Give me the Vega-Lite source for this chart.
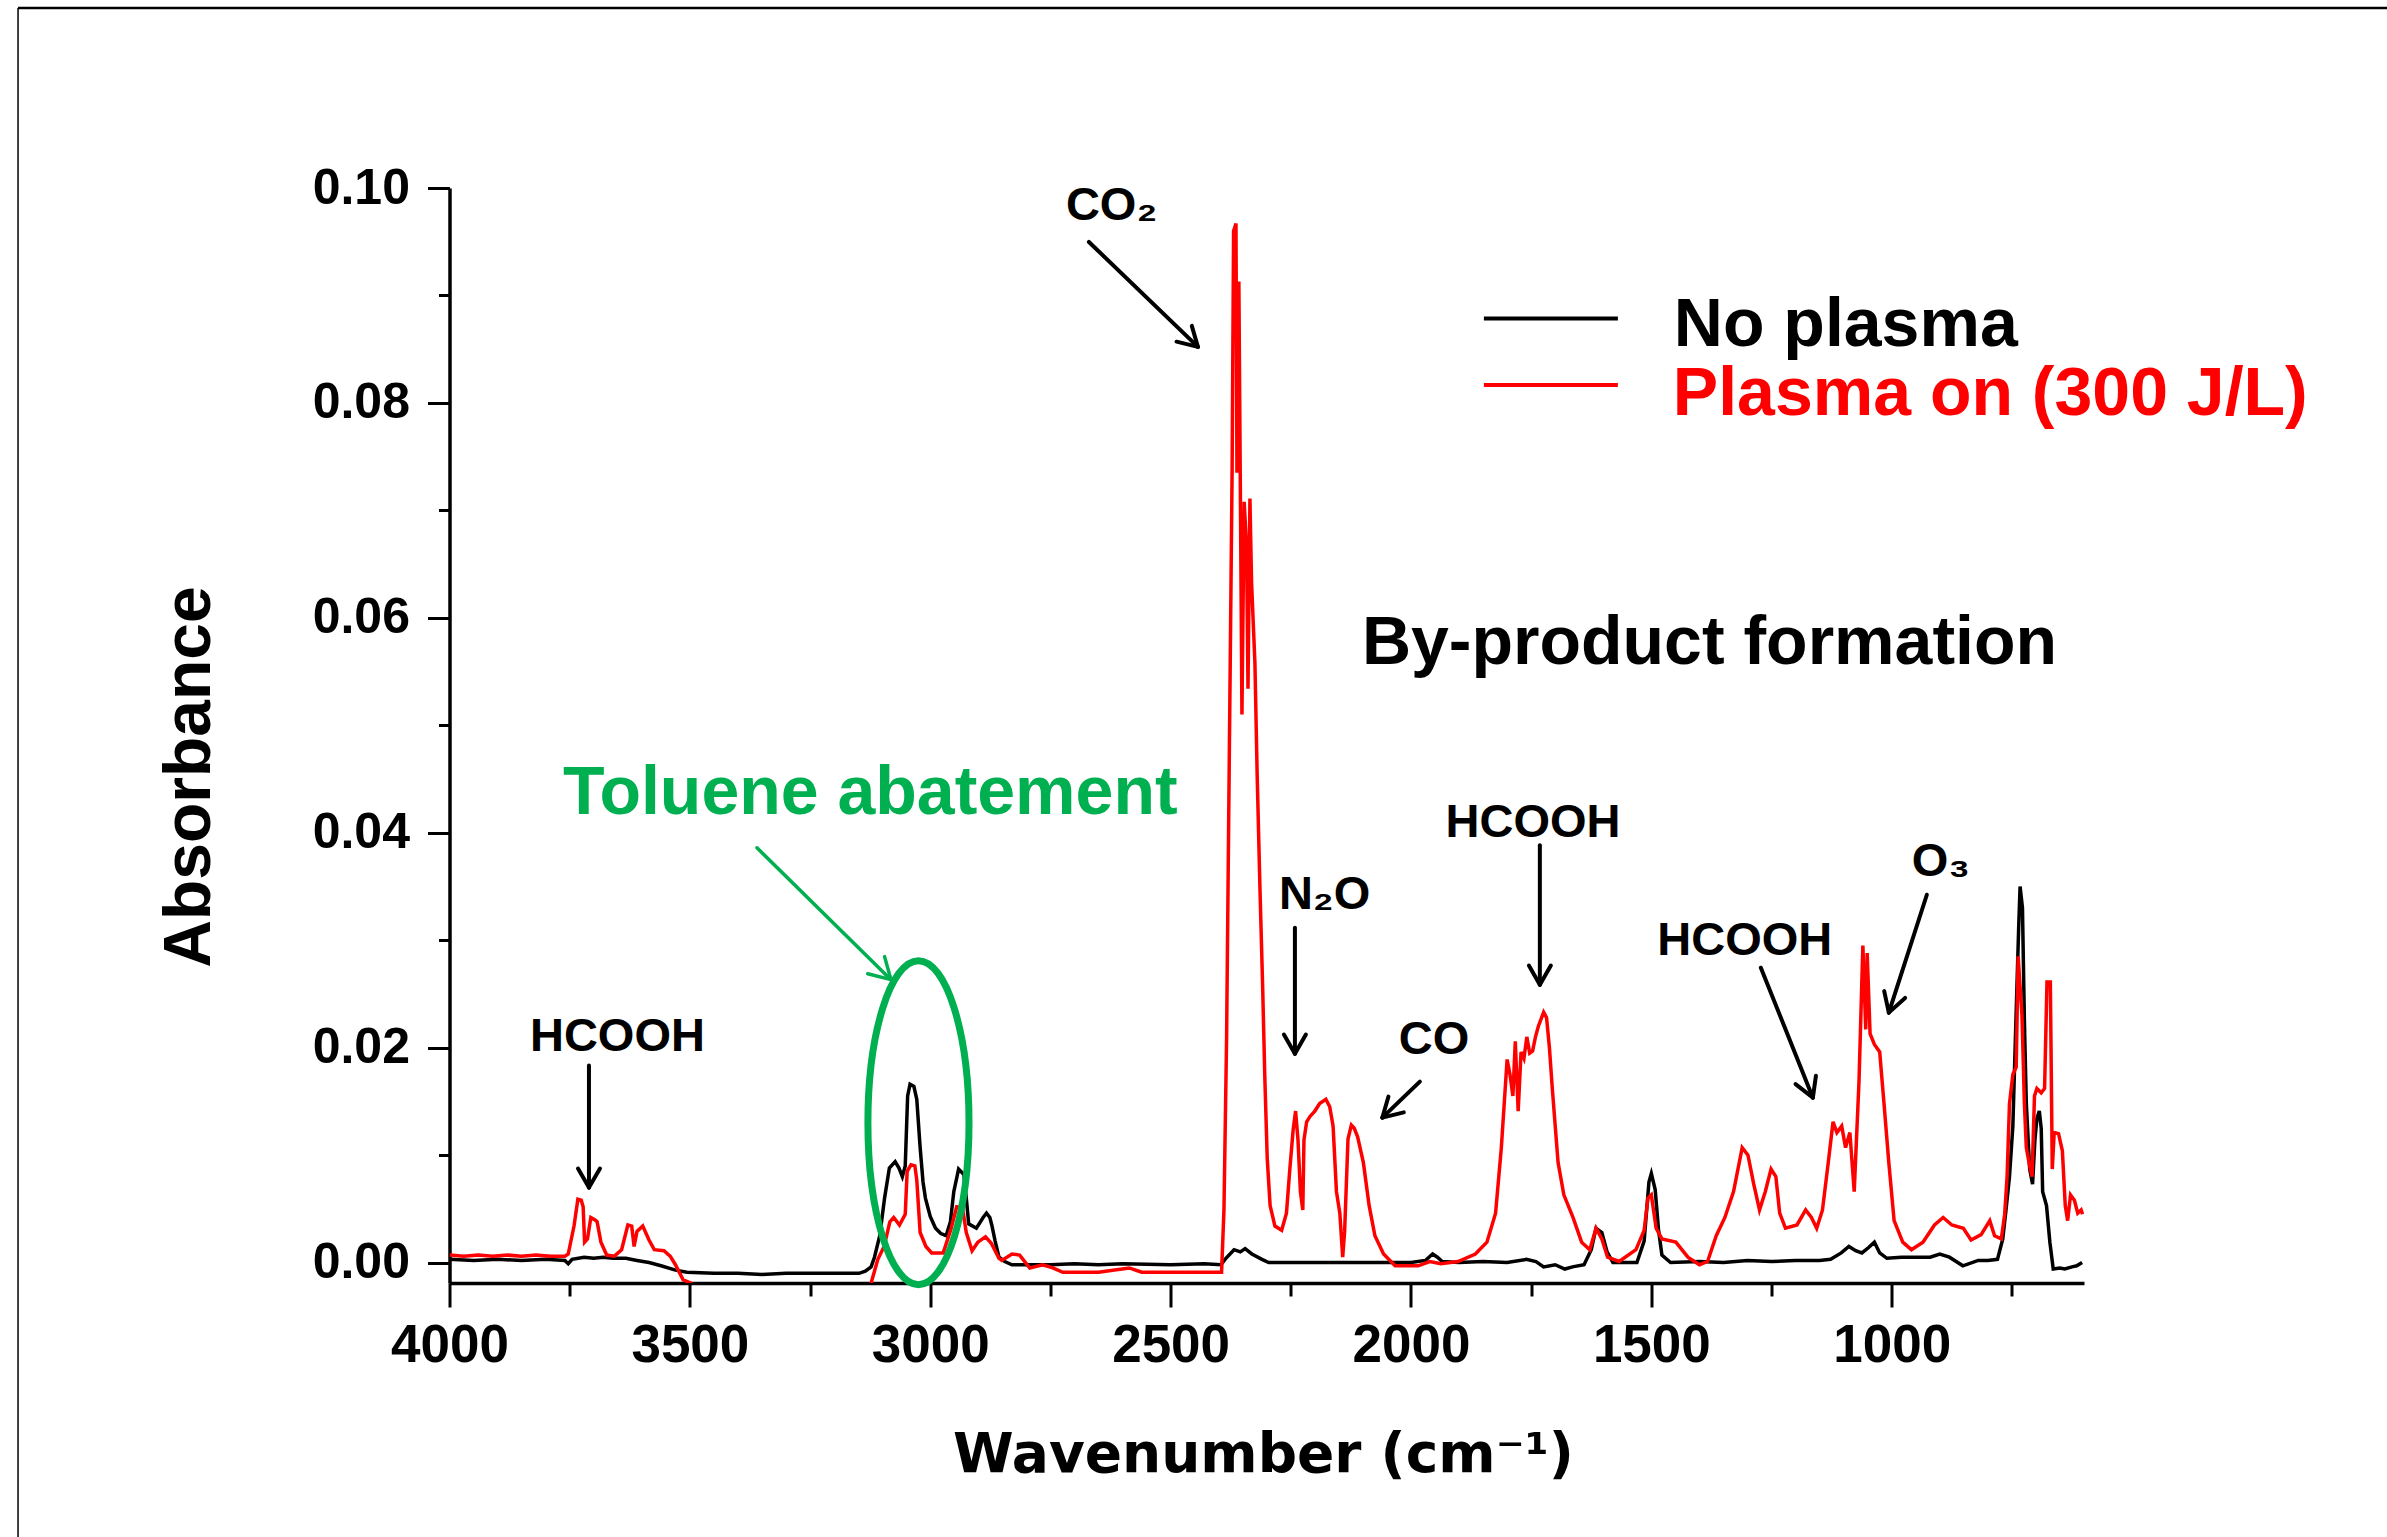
{
  "$schema": "https://vega.github.io/schema/vega-lite/v6.json",
  "width": 1634.5,
  "height": 1095,
  "autosize": {"type": "none"},
  "padding": {"left": 449.5, "top": 188, "right": 303, "bottom": 254},
  "background": "white",
  "config": {"view": {"stroke": null}, "axis": {"grid": false}},
  "datasets": {
    "spectra": [
      {"w":4000,"a":0.0003,"s":"No plasma"},{"w":3950,"a":0.0002,"s":"No plasma"},{"w":3900,"a":0.0003,"s":"No plasma"},{"w":3850,"a":0.0002,"s":"No plasma"},{"w":3800,"a":0.0003,"s":"No plasma"},{"w":3760,"a":0.0002,"s":"No plasma"},{"w":3753,"a":-0.0001,"s":"No plasma"},{"w":3745,"a":0.0003,"s":"No plasma"},{"w":3720,"a":0.0005,"s":"No plasma"},{"w":3700,"a":0.0004,"s":"No plasma"},{"w":3680,"a":0.0005,"s":"No plasma"},{"w":3660,"a":0.0004,"s":"No plasma"},{"w":3633,"a":0.0004,"s":"No plasma"},{"w":3610,"a":0.0002,"s":"No plasma"},{"w":3585,"a":0.0,"s":"No plasma"},{"w":3560,"a":-0.0003,"s":"No plasma"},{"w":3530,"a":-0.0007,"s":"No plasma"},{"w":3506,"a":-0.0009,"s":"No plasma"},{"w":3450,"a":-0.001,"s":"No plasma"},{"w":3400,"a":-0.001,"s":"No plasma"},{"w":3350,"a":-0.0011,"s":"No plasma"},{"w":3300,"a":-0.001,"s":"No plasma"},{"w":3250,"a":-0.001,"s":"No plasma"},{"w":3200,"a":-0.001,"s":"No plasma"},{"w":3148,"a":-0.001,"s":"No plasma"},{"w":3135,"a":-0.0008,"s":"No plasma"},{"w":3123,"a":-0.0004,"s":"No plasma"},{"w":3116,"a":0.0005,"s":"No plasma"},{"w":3105,"a":0.0025,"s":"No plasma"},{"w":3095,"a":0.006,"s":"No plasma"},{"w":3085,"a":0.0088,"s":"No plasma"},{"w":3073,"a":0.0094,"s":"No plasma"},{"w":3065,"a":0.0088,"s":"No plasma"},{"w":3058,"a":0.008,"s":"No plasma"},{"w":3052,"a":0.009,"s":"No plasma"},{"w":3047,"a":0.0155,"s":"No plasma"},{"w":3042,"a":0.0166,"s":"No plasma"},{"w":3034,"a":0.0164,"s":"No plasma"},{"w":3028,"a":0.0152,"s":"No plasma"},{"w":3021,"a":0.0107,"s":"No plasma"},{"w":3015,"a":0.0075,"s":"No plasma"},{"w":3010,"a":0.006,"s":"No plasma"},{"w":3000,"a":0.0043,"s":"No plasma"},{"w":2989,"a":0.0032,"s":"No plasma"},{"w":2978,"a":0.0027,"s":"No plasma"},{"w":2967,"a":0.0025,"s":"No plasma"},{"w":2958,"a":0.0038,"s":"No plasma"},{"w":2951,"a":0.0066,"s":"No plasma"},{"w":2941,"a":0.0087,"s":"No plasma"},{"w":2930,"a":0.0082,"s":"No plasma"},{"w":2925,"a":0.006,"s":"No plasma"},{"w":2920,"a":0.0036,"s":"No plasma"},{"w":2904,"a":0.0032,"s":"No plasma"},{"w":2890,"a":0.0042,"s":"No plasma"},{"w":2883,"a":0.0046,"s":"No plasma"},{"w":2876,"a":0.0042,"s":"No plasma"},{"w":2872,"a":0.0035,"s":"No plasma"},{"w":2865,"a":0.002,"s":"No plasma"},{"w":2857,"a":0.0005,"s":"No plasma"},{"w":2845,"a":0.0001,"s":"No plasma"},{"w":2830,"a":-0.0002,"s":"No plasma"},{"w":2750,"a":-0.0002,"s":"No plasma"},{"w":2700,"a":-0.0001,"s":"No plasma"},{"w":2650,"a":-0.0002,"s":"No plasma"},{"w":2600,"a":-0.0001,"s":"No plasma"},{"w":2500,"a":-0.0002,"s":"No plasma"},{"w":2430,"a":-0.0001,"s":"No plasma"},{"w":2395,"a":-0.0002,"s":"No plasma"},{"w":2385,"a":0.0004,"s":"No plasma"},{"w":2368,"a":0.0012,"s":"No plasma"},{"w":2355,"a":0.001,"s":"No plasma"},{"w":2345,"a":0.0013,"s":"No plasma"},{"w":2331,"a":0.0008,"s":"No plasma"},{"w":2310,"a":0.0003,"s":"No plasma"},{"w":2296,"a":0.0,"s":"No plasma"},{"w":2200,"a":0.0,"s":"No plasma"},{"w":2100,"a":0.0,"s":"No plasma"},{"w":2000,"a":0.0,"s":"No plasma"},{"w":1970,"a":0.0002,"s":"No plasma"},{"w":1955,"a":0.0008,"s":"No plasma"},{"w":1945,"a":0.0005,"s":"No plasma"},{"w":1935,"a":0.0001,"s":"No plasma"},{"w":1900,"a":0.0,"s":"No plasma"},{"w":1850,"a":0.0001,"s":"No plasma"},{"w":1800,"a":0.0,"s":"No plasma"},{"w":1760,"a":0.0003,"s":"No plasma"},{"w":1740,"a":0.0001,"s":"No plasma"},{"w":1724,"a":-0.0004,"s":"No plasma"},{"w":1700,"a":-0.0002,"s":"No plasma"},{"w":1680,"a":-0.0006,"s":"No plasma"},{"w":1664,"a":-0.0004,"s":"No plasma"},{"w":1640,"a":-0.0002,"s":"No plasma"},{"w":1625,"a":0.0012,"s":"No plasma"},{"w":1615,"a":0.0032,"s":"No plasma"},{"w":1603,"a":0.0028,"s":"No plasma"},{"w":1592,"a":0.001,"s":"No plasma"},{"w":1580,"a":0.0,"s":"No plasma"},{"w":1560,"a":0.0,"s":"No plasma"},{"w":1530,"a":0.0,"s":"No plasma"},{"w":1515,"a":0.002,"s":"No plasma"},{"w":1505,"a":0.0075,"s":"No plasma"},{"w":1500,"a":0.0083,"s":"No plasma"},{"w":1492,"a":0.0068,"s":"No plasma"},{"w":1485,"a":0.003,"s":"No plasma"},{"w":1478,"a":0.0007,"s":"No plasma"},{"w":1460,"a":0.0,"s":"No plasma"},{"w":1400,"a":0.0001,"s":"No plasma"},{"w":1350,"a":0.0,"s":"No plasma"},{"w":1300,"a":0.0002,"s":"No plasma"},{"w":1250,"a":0.0001,"s":"No plasma"},{"w":1200,"a":0.0002,"s":"No plasma"},{"w":1150,"a":0.0002,"s":"No plasma"},{"w":1127,"a":0.0003,"s":"No plasma"},{"w":1105,"a":0.0009,"s":"No plasma"},{"w":1089,"a":0.0015,"s":"No plasma"},{"w":1075,"a":0.0011,"s":"No plasma"},{"w":1062,"a":0.0009,"s":"No plasma"},{"w":1048,"a":0.0014,"s":"No plasma"},{"w":1036,"a":0.0019,"s":"No plasma"},{"w":1025,"a":0.0009,"s":"No plasma"},{"w":1010,"a":0.0004,"s":"No plasma"},{"w":980,"a":0.0005,"s":"No plasma"},{"w":950,"a":0.0005,"s":"No plasma"},{"w":920,"a":0.0005,"s":"No plasma"},{"w":900,"a":0.0008,"s":"No plasma"},{"w":880,"a":0.0005,"s":"No plasma"},{"w":852,"a":-0.0003,"s":"No plasma"},{"w":820,"a":0.0002,"s":"No plasma"},{"w":800,"a":0.0002,"s":"No plasma"},{"w":780,"a":0.0003,"s":"No plasma"},{"w":769,"a":0.0022,"s":"No plasma"},{"w":762,"a":0.005,"s":"No plasma"},{"w":755,"a":0.008,"s":"No plasma"},{"w":748,"a":0.0127,"s":"No plasma"},{"w":740,"a":0.025,"s":"No plasma"},{"w":736,"a":0.031,"s":"No plasma"},{"w":733,"a":0.035,"s":"No plasma"},{"w":728,"a":0.033,"s":"No plasma"},{"w":724,"a":0.0225,"s":"No plasma"},{"w":720,"a":0.0148,"s":"No plasma"},{"w":713,"a":0.0087,"s":"No plasma"},{"w":707,"a":0.0073,"s":"No plasma"},{"w":702,"a":0.0115,"s":"No plasma"},{"w":698,"a":0.0134,"s":"No plasma"},{"w":693,"a":0.0141,"s":"No plasma"},{"w":689,"a":0.0125,"s":"No plasma"},{"w":686,"a":0.0066,"s":"No plasma"},{"w":678,"a":0.0053,"s":"No plasma"},{"w":671,"a":0.0019,"s":"No plasma"},{"w":664,"a":-0.0006,"s":"No plasma"},{"w":650,"a":-0.0005,"s":"No plasma"},{"w":640,"a":-0.0006,"s":"No plasma"},{"w":625,"a":-0.0004,"s":"No plasma"},{"w":615,"a":-0.0003,"s":"No plasma"},{"w":604,"a":0.0,"s":"No plasma"},
      {"w":4000,"a":0.0007,"s":"Plasma on (300 J/L)"},{"w":3970,"a":0.0006,"s":"Plasma on (300 J/L)"},{"w":3940,"a":0.0007,"s":"Plasma on (300 J/L)"},{"w":3910,"a":0.0006,"s":"Plasma on (300 J/L)"},{"w":3880,"a":0.0007,"s":"Plasma on (300 J/L)"},{"w":3850,"a":0.0006,"s":"Plasma on (300 J/L)"},{"w":3820,"a":0.0007,"s":"Plasma on (300 J/L)"},{"w":3790,"a":0.0006,"s":"Plasma on (300 J/L)"},{"w":3760,"a":0.0006,"s":"Plasma on (300 J/L)"},{"w":3753,"a":0.0008,"s":"Plasma on (300 J/L)"},{"w":3741,"a":0.0034,"s":"Plasma on (300 J/L)"},{"w":3733,"a":0.0059,"s":"Plasma on (300 J/L)"},{"w":3726,"a":0.0058,"s":"Plasma on (300 J/L)"},{"w":3722,"a":0.0052,"s":"Plasma on (300 J/L)"},{"w":3719,"a":0.0019,"s":"Plasma on (300 J/L)"},{"w":3713,"a":0.0022,"s":"Plasma on (300 J/L)"},{"w":3706,"a":0.0042,"s":"Plasma on (300 J/L)"},{"w":3698,"a":0.004,"s":"Plasma on (300 J/L)"},{"w":3693,"a":0.0038,"s":"Plasma on (300 J/L)"},{"w":3685,"a":0.0019,"s":"Plasma on (300 J/L)"},{"w":3673,"a":0.0007,"s":"Plasma on (300 J/L)"},{"w":3657,"a":0.0006,"s":"Plasma on (300 J/L)"},{"w":3642,"a":0.0012,"s":"Plasma on (300 J/L)"},{"w":3629,"a":0.0035,"s":"Plasma on (300 J/L)"},{"w":3621,"a":0.0034,"s":"Plasma on (300 J/L)"},{"w":3616,"a":0.0015,"s":"Plasma on (300 J/L)"},{"w":3610,"a":0.0029,"s":"Plasma on (300 J/L)"},{"w":3598,"a":0.0034,"s":"Plasma on (300 J/L)"},{"w":3585,"a":0.0021,"s":"Plasma on (300 J/L)"},{"w":3574,"a":0.0012,"s":"Plasma on (300 J/L)"},{"w":3554,"a":0.0011,"s":"Plasma on (300 J/L)"},{"w":3541,"a":0.0006,"s":"Plasma on (300 J/L)"},{"w":3530,"a":-0.0002,"s":"Plasma on (300 J/L)"},{"w":3514,"a":-0.0016,"s":"Plasma on (300 J/L)"},{"w":3498,"a":-0.0019,"s":"Plasma on (300 J/L)"},{"w":3490,"a":-0.003,"s":"Plasma on (300 J/L)"},{"w":3140,"a":-0.003,"s":"Plasma on (300 J/L)"},{"w":3123,"a":-0.0019,"s":"Plasma on (300 J/L)"},{"w":3109,"a":0.0003,"s":"Plasma on (300 J/L)"},{"w":3096,"a":0.0015,"s":"Plasma on (300 J/L)"},{"w":3084,"a":0.0038,"s":"Plasma on (300 J/L)"},{"w":3076,"a":0.0042,"s":"Plasma on (300 J/L)"},{"w":3064,"a":0.0035,"s":"Plasma on (300 J/L)"},{"w":3052,"a":0.0045,"s":"Plasma on (300 J/L)"},{"w":3048,"a":0.0085,"s":"Plasma on (300 J/L)"},{"w":3040,"a":0.0091,"s":"Plasma on (300 J/L)"},{"w":3032,"a":0.009,"s":"Plasma on (300 J/L)"},{"w":3028,"a":0.0077,"s":"Plasma on (300 J/L)"},{"w":3021,"a":0.0028,"s":"Plasma on (300 J/L)"},{"w":3009,"a":0.0015,"s":"Plasma on (300 J/L)"},{"w":2997,"a":0.0009,"s":"Plasma on (300 J/L)"},{"w":2973,"a":0.0009,"s":"Plasma on (300 J/L)"},{"w":2957,"a":0.0031,"s":"Plasma on (300 J/L)"},{"w":2945,"a":0.0052,"s":"Plasma on (300 J/L)"},{"w":2933,"a":0.0051,"s":"Plasma on (300 J/L)"},{"w":2925,"a":0.0028,"s":"Plasma on (300 J/L)"},{"w":2913,"a":0.0011,"s":"Plasma on (300 J/L)"},{"w":2901,"a":0.0019,"s":"Plasma on (300 J/L)"},{"w":2885,"a":0.0024,"s":"Plasma on (300 J/L)"},{"w":2873,"a":0.0018,"s":"Plasma on (300 J/L)"},{"w":2857,"a":0.0004,"s":"Plasma on (300 J/L)"},{"w":2851,"a":0.0002,"s":"Plasma on (300 J/L)"},{"w":2830,"a":0.0008,"s":"Plasma on (300 J/L)"},{"w":2814,"a":0.0007,"s":"Plasma on (300 J/L)"},{"w":2793,"a":-0.0005,"s":"Plasma on (300 J/L)"},{"w":2766,"a":-0.0002,"s":"Plasma on (300 J/L)"},{"w":2745,"a":-0.0005,"s":"Plasma on (300 J/L)"},{"w":2724,"a":-0.0009,"s":"Plasma on (300 J/L)"},{"w":2650,"a":-0.0009,"s":"Plasma on (300 J/L)"},{"w":2586,"a":-0.0005,"s":"Plasma on (300 J/L)"},{"w":2560,"a":-0.0009,"s":"Plasma on (300 J/L)"},{"w":2500,"a":-0.0009,"s":"Plasma on (300 J/L)"},{"w":2447,"a":-0.0009,"s":"Plasma on (300 J/L)"},{"w":2394,"a":-0.0009,"s":"Plasma on (300 J/L)"},{"w":2389,"a":0.0049,"s":"Plasma on (300 J/L)"},{"w":2383.5,"a":0.021,"s":"Plasma on (300 J/L)"},{"w":2378,"a":0.0466,"s":"Plasma on (300 J/L)"},{"w":2372,"a":0.0739,"s":"Plasma on (300 J/L)"},{"w":2369,"a":0.096,"s":"Plasma on (300 J/L)"},{"w":2364,"a":0.0967,"s":"Plasma on (300 J/L)"},{"w":2362,"a":0.0735,"s":"Plasma on (300 J/L)"},{"w":2358,"a":0.0913,"s":"Plasma on (300 J/L)"},{"w":2354,"a":0.0663,"s":"Plasma on (300 J/L)"},{"w":2351.6,"a":0.051,"s":"Plasma on (300 J/L)"},{"w":2347,"a":0.0708,"s":"Plasma on (300 J/L)"},{"w":2342,"a":0.0667,"s":"Plasma on (300 J/L)"},{"w":2339,"a":0.0534,"s":"Plasma on (300 J/L)"},{"w":2335,"a":0.0711,"s":"Plasma on (300 J/L)"},{"w":2331.6,"a":0.0633,"s":"Plasma on (300 J/L)"},{"w":2324.6,"a":0.0558,"s":"Plasma on (300 J/L)"},{"w":2320,"a":0.0455,"s":"Plasma on (300 J/L)"},{"w":2314,"a":0.0346,"s":"Plasma on (300 J/L)"},{"w":2308.6,"a":0.0258,"s":"Plasma on (300 J/L)"},{"w":2304,"a":0.0172,"s":"Plasma on (300 J/L)"},{"w":2299,"a":0.0097,"s":"Plasma on (300 J/L)"},{"w":2293,"a":0.0053,"s":"Plasma on (300 J/L)"},{"w":2283,"a":0.0034,"s":"Plasma on (300 J/L)"},{"w":2269,"a":0.003,"s":"Plasma on (300 J/L)"},{"w":2259,"a":0.0046,"s":"Plasma on (300 J/L)"},{"w":2252,"a":0.0087,"s":"Plasma on (300 J/L)"},{"w":2245,"a":0.0124,"s":"Plasma on (300 J/L)"},{"w":2240,"a":0.0141,"s":"Plasma on (300 J/L)"},{"w":2235,"a":0.0114,"s":"Plasma on (300 J/L)"},{"w":2230,"a":0.0066,"s":"Plasma on (300 J/L)"},{"w":2225,"a":0.0049,"s":"Plasma on (300 J/L)"},{"w":2222.6,"a":0.0114,"s":"Plasma on (300 J/L)"},{"w":2217,"a":0.0131,"s":"Plasma on (300 J/L)"},{"w":2210,"a":0.0136,"s":"Plasma on (300 J/L)"},{"w":2200,"a":0.0141,"s":"Plasma on (300 J/L)"},{"w":2190,"a":0.0148,"s":"Plasma on (300 J/L)"},{"w":2177,"a":0.0152,"s":"Plasma on (300 J/L)"},{"w":2169,"a":0.0145,"s":"Plasma on (300 J/L)"},{"w":2162,"a":0.0127,"s":"Plasma on (300 J/L)"},{"w":2155,"a":0.0066,"s":"Plasma on (300 J/L)"},{"w":2148,"a":0.0046,"s":"Plasma on (300 J/L)"},{"w":2142,"a":0.0005,"s":"Plasma on (300 J/L)"},{"w":2138,"a":0.0029,"s":"Plasma on (300 J/L)"},{"w":2131,"a":0.0115,"s":"Plasma on (300 J/L)"},{"w":2124,"a":0.0128,"s":"Plasma on (300 J/L)"},{"w":2118,"a":0.0125,"s":"Plasma on (300 J/L)"},{"w":2111,"a":0.0117,"s":"Plasma on (300 J/L)"},{"w":2099,"a":0.0093,"s":"Plasma on (300 J/L)"},{"w":2087,"a":0.0053,"s":"Plasma on (300 J/L)"},{"w":2075,"a":0.0025,"s":"Plasma on (300 J/L)"},{"w":2057,"a":0.0008,"s":"Plasma on (300 J/L)"},{"w":2033,"a":-0.0003,"s":"Plasma on (300 J/L)"},{"w":2000,"a":-0.0003,"s":"Plasma on (300 J/L)"},{"w":1985,"a":-0.0003,"s":"Plasma on (300 J/L)"},{"w":1961,"a":0.0001,"s":"Plasma on (300 J/L)"},{"w":1938,"a":-0.0001,"s":"Plasma on (300 J/L)"},{"w":1902,"a":0.0001,"s":"Plasma on (300 J/L)"},{"w":1866,"a":0.0008,"s":"Plasma on (300 J/L)"},{"w":1842,"a":0.0019,"s":"Plasma on (300 J/L)"},{"w":1824,"a":0.0046,"s":"Plasma on (300 J/L)"},{"w":1812,"a":0.0107,"s":"Plasma on (300 J/L)"},{"w":1800,"a":0.0189,"s":"Plasma on (300 J/L)"},{"w":1794,"a":0.0175,"s":"Plasma on (300 J/L)"},{"w":1788,"a":0.0155,"s":"Plasma on (300 J/L)"},{"w":1783,"a":0.0206,"s":"Plasma on (300 J/L)"},{"w":1777,"a":0.0141,"s":"Plasma on (300 J/L)"},{"w":1771,"a":0.0196,"s":"Plasma on (300 J/L)"},{"w":1765,"a":0.019,"s":"Plasma on (300 J/L)"},{"w":1759,"a":0.021,"s":"Plasma on (300 J/L)"},{"w":1753,"a":0.0195,"s":"Plasma on (300 J/L)"},{"w":1747,"a":0.0197,"s":"Plasma on (300 J/L)"},{"w":1741,"a":0.021,"s":"Plasma on (300 J/L)"},{"w":1735,"a":0.022,"s":"Plasma on (300 J/L)"},{"w":1724,"a":0.0233,"s":"Plasma on (300 J/L)"},{"w":1718,"a":0.0228,"s":"Plasma on (300 J/L)"},{"w":1712,"a":0.02,"s":"Plasma on (300 J/L)"},{"w":1706,"a":0.0162,"s":"Plasma on (300 J/L)"},{"w":1694,"a":0.0093,"s":"Plasma on (300 J/L)"},{"w":1682,"a":0.0063,"s":"Plasma on (300 J/L)"},{"w":1663,"a":0.0042,"s":"Plasma on (300 J/L)"},{"w":1645,"a":0.0019,"s":"Plasma on (300 J/L)"},{"w":1628,"a":0.0012,"s":"Plasma on (300 J/L)"},{"w":1615,"a":0.0032,"s":"Plasma on (300 J/L)"},{"w":1603,"a":0.0022,"s":"Plasma on (300 J/L)"},{"w":1591,"a":0.0005,"s":"Plasma on (300 J/L)"},{"w":1567,"a":0.0001,"s":"Plasma on (300 J/L)"},{"w":1532,"a":0.0012,"s":"Plasma on (300 J/L)"},{"w":1515,"a":0.003,"s":"Plasma on (300 J/L)"},{"w":1507,"a":0.006,"s":"Plasma on (300 J/L)"},{"w":1500,"a":0.0063,"s":"Plasma on (300 J/L)"},{"w":1490,"a":0.0032,"s":"Plasma on (300 J/L)"},{"w":1478,"a":0.0022,"s":"Plasma on (300 J/L)"},{"w":1449,"a":0.0019,"s":"Plasma on (300 J/L)"},{"w":1424,"a":0.0005,"s":"Plasma on (300 J/L)"},{"w":1400,"a":-0.0002,"s":"Plasma on (300 J/L)"},{"w":1383,"a":0.0001,"s":"Plasma on (300 J/L)"},{"w":1365,"a":0.0025,"s":"Plasma on (300 J/L)"},{"w":1347,"a":0.0042,"s":"Plasma on (300 J/L)"},{"w":1329,"a":0.0066,"s":"Plasma on (300 J/L)"},{"w":1311,"a":0.0107,"s":"Plasma on (300 J/L)"},{"w":1299,"a":0.01,"s":"Plasma on (300 J/L)"},{"w":1287,"a":0.0073,"s":"Plasma on (300 J/L)"},{"w":1275,"a":0.0049,"s":"Plasma on (300 J/L)"},{"w":1263,"a":0.0066,"s":"Plasma on (300 J/L)"},{"w":1251,"a":0.0087,"s":"Plasma on (300 J/L)"},{"w":1241,"a":0.008,"s":"Plasma on (300 J/L)"},{"w":1233,"a":0.0046,"s":"Plasma on (300 J/L)"},{"w":1221,"a":0.0032,"s":"Plasma on (300 J/L)"},{"w":1197,"a":0.0035,"s":"Plasma on (300 J/L)"},{"w":1179,"a":0.0049,"s":"Plasma on (300 J/L)"},{"w":1167,"a":0.0042,"s":"Plasma on (300 J/L)"},{"w":1156,"a":0.0032,"s":"Plasma on (300 J/L)"},{"w":1144,"a":0.0049,"s":"Plasma on (300 J/L)"},{"w":1132,"a":0.0093,"s":"Plasma on (300 J/L)"},{"w":1122,"a":0.0131,"s":"Plasma on (300 J/L)"},{"w":1114,"a":0.0121,"s":"Plasma on (300 J/L)"},{"w":1104,"a":0.0127,"s":"Plasma on (300 J/L)"},{"w":1096,"a":0.0107,"s":"Plasma on (300 J/L)"},{"w":1087,"a":0.0121,"s":"Plasma on (300 J/L)"},{"w":1078,"a":0.0066,"s":"Plasma on (300 J/L)"},{"w":1068,"a":0.0169,"s":"Plasma on (300 J/L)"},{"w":1060,"a":0.0295,"s":"Plasma on (300 J/L)"},{"w":1054,"a":0.0217,"s":"Plasma on (300 J/L)"},{"w":1051,"a":0.0288,"s":"Plasma on (300 J/L)"},{"w":1045,"a":0.0213,"s":"Plasma on (300 J/L)"},{"w":1036,"a":0.0203,"s":"Plasma on (300 J/L)"},{"w":1025,"a":0.0196,"s":"Plasma on (300 J/L)"},{"w":1016,"a":0.0148,"s":"Plasma on (300 J/L)"},{"w":1006,"a":0.0093,"s":"Plasma on (300 J/L)"},{"w":995,"a":0.0039,"s":"Plasma on (300 J/L)"},{"w":977,"a":0.0019,"s":"Plasma on (300 J/L)"},{"w":959,"a":0.0012,"s":"Plasma on (300 J/L)"},{"w":935,"a":0.0019,"s":"Plasma on (300 J/L)"},{"w":911,"a":0.0035,"s":"Plasma on (300 J/L)"},{"w":893,"a":0.0042,"s":"Plasma on (300 J/L)"},{"w":875,"a":0.0035,"s":"Plasma on (300 J/L)"},{"w":851,"a":0.0032,"s":"Plasma on (300 J/L)"},{"w":835,"a":0.0021,"s":"Plasma on (300 J/L)"},{"w":814,"a":0.0026,"s":"Plasma on (300 J/L)"},{"w":796,"a":0.0039,"s":"Plasma on (300 J/L)"},{"w":786,"a":0.0025,"s":"Plasma on (300 J/L)"},{"w":772,"a":0.0022,"s":"Plasma on (300 J/L)"},{"w":765,"a":0.0045,"s":"Plasma on (300 J/L)"},{"w":760,"a":0.008,"s":"Plasma on (300 J/L)"},{"w":755,"a":0.0148,"s":"Plasma on (300 J/L)"},{"w":748,"a":0.0175,"s":"Plasma on (300 J/L)"},{"w":741,"a":0.0182,"s":"Plasma on (300 J/L)"},{"w":737,"a":0.0285,"s":"Plasma on (300 J/L)"},{"w":733,"a":0.0257,"s":"Plasma on (300 J/L)"},{"w":729,"a":0.023,"s":"Plasma on (300 J/L)"},{"w":724,"a":0.0148,"s":"Plasma on (300 J/L)"},{"w":720,"a":0.0107,"s":"Plasma on (300 J/L)"},{"w":713,"a":0.009,"s":"Plasma on (300 J/L)"},{"w":708,"a":0.008,"s":"Plasma on (300 J/L)"},{"w":703,"a":0.0155,"s":"Plasma on (300 J/L)"},{"w":698,"a":0.0162,"s":"Plasma on (300 J/L)"},{"w":689,"a":0.0158,"s":"Plasma on (300 J/L)"},{"w":682,"a":0.0162,"s":"Plasma on (300 J/L)"},{"w":677,"a":0.0261,"s":"Plasma on (300 J/L)"},{"w":670,"a":0.0261,"s":"Plasma on (300 J/L)"},{"w":666,"a":0.0087,"s":"Plasma on (300 J/L)"},{"w":662,"a":0.0121,"s":"Plasma on (300 J/L)"},{"w":653,"a":0.012,"s":"Plasma on (300 J/L)"},{"w":645,"a":0.0104,"s":"Plasma on (300 J/L)"},{"w":639,"a":0.0053,"s":"Plasma on (300 J/L)"},{"w":634,"a":0.0039,"s":"Plasma on (300 J/L)"},{"w":628,"a":0.0063,"s":"Plasma on (300 J/L)"},{"w":620,"a":0.0058,"s":"Plasma on (300 J/L)"},{"w":613,"a":0.0046,"s":"Plasma on (300 J/L)"},{"w":606,"a":0.0049,"s":"Plasma on (300 J/L)"},{"w":603,"a":0.0045,"s":"Plasma on (300 J/L)"}
    ],
    "smallLabels": [
      {"w":2717.8,"a":0.0970,"t":"CO₂"},
      {"w":3832.6,"a":0.01972,"t":"HCOOH"},
      {"w":2274.7,"a":0.03293,"t":"N₂O"},
      {"w":2025.2,"a":0.01944,"t":"CO"},
      {"w":1928,"a":0.03958,"t":"HCOOH"},
      {"w":1487.5,"a":0.0286,"t":"HCOOH"},
      {"w":958.2,"a":0.036,"t":"O₃"}
    ],
    "arrows": [
      {"w":2669.9,"a":0.09498,"w2":2443.2,"a2":0.08521},
      {"w":2455.9,"a":0.08717,"w2":2443.2,"a2":0.08521},
      {"w":2487.7,"a":0.0857,"w2":2443.2,"a2":0.08521},
      {"w":3709.9,"a":0.01833,"w2":3709.9,"a2":0.00698},
      {"w":3686.97,"a":0.008754,"w2":3709.9,"a2":0.00698},
      {"w":3732.7,"a":0.008754,"w2":3709.9,"a2":0.00698},
      {"w":2241.4,"a":0.03116,"w2":2241.4,"a2":0.01944},
      {"w":2218.6,"a":0.02122,"w2":2241.4,"a2":0.01944},
      {"w":2264.3,"a":0.02122,"w2":2241.4,"a2":0.01944},
      {"w":1981.5,"a":0.01684,"w2":2059.5,"a2":0.01349},
      {"w":2014.9,"a":0.01398,"w2":2059.5,"a2":0.01349},
      {"w":2046.8,"a":0.01545,"w2":2059.5,"a2":0.01349},
      {"w":1731.9,"a":0.03884,"w2":1731.9,"a2":0.02586},
      {"w":1709.0,"a":0.02764,"w2":1731.9,"a2":0.02586},
      {"w":1754.7,"a":0.02764,"w2":1731.9,"a2":0.02586},
      {"w":1272.2,"a":0.02744,"w2":1164.0,"a2":0.01535},
      {"w":1157.6,"a":0.01738,"w2":1164.0,"a2":0.01535},
      {"w":1200.0,"a":0.01661,"w2":1164.0,"a2":0.01535},
      {"w":926.9,"a":0.03423,"w2":1006.0,"a2":0.02326},
      {"w":972.1,"a":0.02463,"w2":1006.0,"a2":0.02326},
      {"w":1015.6,"a":0.02526,"w2":1006.0,"a2":0.02326}
    ],
    "greenArrow": [
      {"w":3360.4,"a":0.0386,"w2":3081.7,"a2":0.02633},
      {"w":3095.0,"a":0.02847,"w2":3081.7,"a2":0.02633},
      {"w":3130.0,"a":0.02688,"w2":3081.7,"a2":0.02633}
    ],
    "legendLines": [
      {"w":1848.3,"w2":1569.6,"a":0.08786,"s":"No plasma"},
      {"w":1848.3,"w2":1569.6,"a":0.08167,"s":"Plasma on (300 J/L)"}
    ],
    "legendText": [
      {"w":1453.2,"a":0.0853,"s":"No plasma"},
      {"w":1455.3,"a":0.0789,"s":"Plasma on (300 J/L)"}
    ]
  },
  "resolve": {"axis": {"x": "independent", "y": "independent"}},
  "layer": [
    {
      "data": {"name": "spectra"},
      "mark": {"type": "line", "strokeWidth": 3.5, "clip": true},
      "encoding": {
        "x": {
          "field": "w", "type": "quantitative",
          "scale": {"domain": [600, 4000], "reverse": true, "nice": false, "zero": false},
          "axis": {
            "orient": "bottom",
            "values": [4000, 3500, 3000, 2500, 2000, 1500, 1000],
            "format": "d",
            "labelFont": "Liberation Sans", "labelFontWeight": "bold", "labelFontSize": 53, "labelColor": "black",
            "labelPadding": 12, "labelFlush": false, "labelOverlap": false,
            "tickSize": 24, "tickWidth": 3, "tickColor": "black",
            "domainWidth": 3.5, "domainColor": "black",
            "title": "Wavenumber (cm⁻¹)",
            "titleFont": "DejaVu Sans", "titleFontWeight": "bold", "titleFontSize": 55, "titleColor": "black",
            "titleX": 813.5, "titleY": 188.7, "titleBaseline": "alphabetic", "titleAlign": "center", "titleAnchor": null
          }
        },
        "y": {
          "field": "a", "type": "quantitative",
          "scale": {"domain": [-0.0019, 0.1], "nice": false, "zero": false},
          "axis": {
            "orient": "left",
            "values": [0, 0.02, 0.04, 0.06, 0.08, 0.1],
            "format": ".2f",
            "labelFont": "Liberation Sans", "labelFontWeight": "bold", "labelFontSize": 50, "labelColor": "black",
            "labelPadding": 18, "labelFlush": false, "labelOverlap": false,
            "tickSize": 22, "tickWidth": 3, "tickColor": "black",
            "domainWidth": 3.5, "domainColor": "black",
            "title": "Absorbance",
            "titleFont": "Liberation Sans", "titleFontWeight": "bold", "titleFontSize": 66, "titleColor": "black",
            "titleAngle": 270, "titleX": -240.5, "titleY": 588.5, "titleBaseline": "alphabetic", "titleAlign": "center"
          }
        },
        "color": {
          "field": "s", "type": "nominal",
          "scale": {"domain": ["No plasma", "Plasma on (300 J/L)"], "range": ["#000000", "#ff0000"]},
          "legend": null
        }
      }
    },
    {
      "data": {"name": "arrows"},
      "mark": {"type": "rule", "strokeWidth": 4, "color": "black", "strokeCap": "round"},
      "encoding": {
        "x": {"field": "w", "type": "quantitative",
          "axis": {"orient": "bottom", "values": [3750, 3250, 2750, 2250, 1750, 1250, 750], "labels": false, "domain": false, "tickSize": 13, "tickWidth": 3, "tickColor": "black", "title": null, "grid": false}},
        "x2": {"field": "w2"},
        "y": {"field": "a", "type": "quantitative",
          "axis": {"orient": "left", "values": [0.01, 0.03, 0.05, 0.07, 0.09], "labels": false, "domain": false, "tickSize": 11, "tickWidth": 3, "tickColor": "black", "title": null, "grid": false}},
        "y2": {"field": "a2"}
      }
    },
    {
      "data": {"name": "greenArrow"},
      "mark": {"type": "rule", "strokeWidth": 3.5, "color": "#00B050", "strokeCap": "round"},
      "encoding": {
        "x": {"field": "w", "type": "quantitative", "axis": null},
        "x2": {"field": "w2"},
        "y": {"field": "a", "type": "quantitative", "axis": null},
        "y2": {"field": "a2"}
      }
    },
    {
      "data": {"values": [{"w": 3024.5, "a": 0.01302}]},
      "mark": {"type": "point", "shape": "M0,-1 A0.312,1 0 1,1 0,1 A0.312,1 0 1,1 0,-1 Z", "size": 104976, "filled": false, "stroke": "#00B050", "strokeWidth": 7, "opacity": 1},
      "encoding": {
        "x": {"field": "w", "type": "quantitative", "axis": null},
        "y": {"field": "a", "type": "quantitative", "axis": null}
      }
    },
    {
      "data": {"name": "smallLabels"},
      "mark": {"type": "text", "align": "left", "baseline": "alphabetic", "font": "Liberation Sans", "fontWeight": "bold", "fontSize": 47, "color": "black"},
      "encoding": {
        "x": {"field": "w", "type": "quantitative", "axis": null},
        "y": {"field": "a", "type": "quantitative", "axis": null},
        "text": {"field": "t"}
      }
    },
    {
      "data": {"values": [{"w": 3764, "a": 0.04177, "t": "Toluene abatement"}]},
      "mark": {"type": "text", "align": "left", "baseline": "alphabetic", "font": "Liberation Sans", "fontWeight": "bold", "fontSize": 68, "color": "#00B050"},
      "encoding": {
        "x": {"field": "w", "type": "quantitative", "axis": null},
        "y": {"field": "a", "type": "quantitative", "axis": null},
        "text": {"field": "t"}
      }
    },
    {
      "data": {"values": [{"w": 2102, "a": 0.05572, "t": "By-product formation"}]},
      "mark": {"type": "text", "align": "left", "baseline": "alphabetic", "font": "Liberation Sans", "fontWeight": "bold", "fontSize": 68, "color": "black"},
      "encoding": {
        "x": {"field": "w", "type": "quantitative", "axis": null},
        "y": {"field": "a", "type": "quantitative", "axis": null},
        "text": {"field": "t"}
      }
    },
    {
      "data": {"name": "legendLines"},
      "mark": {"type": "rule", "strokeWidth": 4},
      "encoding": {
        "x": {"field": "w", "type": "quantitative", "axis": null},
        "x2": {"field": "w2"},
        "y": {"field": "a", "type": "quantitative", "axis": null},
        "color": {"field": "s", "type": "nominal", "legend": null}
      }
    },
    {
      "data": {"name": "legendText"},
      "mark": {"type": "text", "align": "left", "baseline": "alphabetic", "font": "Liberation Sans", "fontWeight": "bold", "fontSize": 68},
      "encoding": {
        "x": {"field": "w", "type": "quantitative", "axis": null},
        "y": {"field": "a", "type": "quantitative", "axis": null},
        "text": {"field": "s"},
        "color": {"field": "s", "type": "nominal", "legend": null}
      }
    },
    {
      "data": {"values": [{}]},
      "mark": {"type": "rule", "strokeWidth": 2.5, "color": "black"},
      "encoding": {
        "x": {"datum": 4897.5, "type": "quantitative", "axis": null},
        "x2": {"datum": -400},
        "y": {"datum": 0.11674, "type": "quantitative", "axis": null}
      }
    },
    {
      "data": {"values": [{}]},
      "mark": {"type": "rule", "strokeWidth": 1.5, "color": "black"},
      "encoding": {
        "x": {"datum": 4897.5, "type": "quantitative", "axis": null},
        "y": {"datum": 0.11674, "type": "quantitative", "axis": null},
        "y2": {"datum": -0.06}
      }
    }
  ]
}
